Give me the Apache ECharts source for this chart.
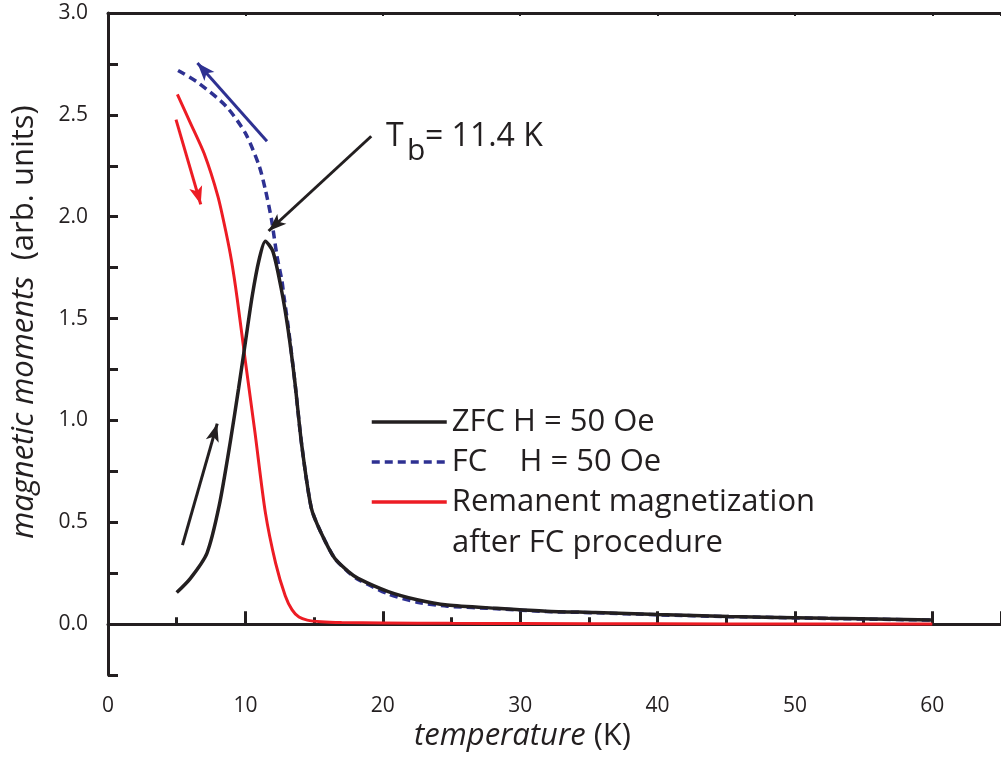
<!DOCTYPE html>
<html>
<head>
<meta charset="utf-8">
<script src="https://cdn.jsdelivr.net/npm/echarts@6/dist/echarts.min.js"></script>
<style>html,body{margin:0;padding:0;background:#fff}#c{width:1001px;height:757px}</style>
</head>
<body>
<div id="c"></div>
<script>
// ---- data ----
var zfcT = [5.0, 6.0, 7.2, 8.1, 8.9, 9.5, 10.0, 10.5, 11.0, 11.45, 12.0, 12.6, 13.1, 13.6, 14.1, 14.8, 15.5, 16.5, 17.5, 18.2, 20.4, 22.5, 24.7, 28.3, 31.9, 35.5, 40, 45.2, 52.4, 60];
var zfcM = [0.155, 0.225, 0.348, 0.584, 0.894, 1.155, 1.384, 1.612, 1.79, 1.88, 1.83, 1.65, 1.45, 1.19, 0.88, 0.57, 0.45, 0.323, 0.258, 0.225, 0.16, 0.12, 0.094, 0.078, 0.064, 0.057, 0.047, 0.038, 0.029, 0.021];
var fcT = [5.1, 6.6, 8.6, 10.0, 11.0, 11.45, 11.9, 12.3, 12.65, 12.8, 13.1, 13.6, 14.1, 14.8, 15.5, 16.5, 17.5, 18.2, 20.4, 22.5, 24.7, 28.3, 31.9, 35.5, 40, 45.2, 52.4, 60];
var fcM = [2.718, 2.656, 2.542, 2.41, 2.25, 2.134, 1.987, 1.807, 1.69, 1.612, 1.47, 1.19, 0.88, 0.57, 0.45, 0.323, 0.255, 0.22, 0.148, 0.108, 0.088, 0.076, 0.062, 0.056, 0.046, 0.037, 0.028, 0.02];
var remT = [5.05, 6.0, 7.0, 8.0, 8.6, 9.0, 9.4, 10.0, 10.7, 11.45, 12.2, 12.9, 13.4, 13.9, 14.5, 15.5, 17, 20, 25, 30, 40, 50, 60];
var remM = [2.6, 2.46, 2.31, 2.1, 1.92, 1.78, 1.6, 1.29, 0.94, 0.55, 0.3, 0.14, 0.07, 0.035, 0.02, 0.012, 0.008, 0.006, 0.004, 0.003, 0.002, 0.001, 0.001];
var seriesNames = ['ZFC H = 50 Oe', 'FC    H = 50 Oe', 'Remanent magnetization'];
var legendExtra = 'after FC procedure';
var xLabelStep = 10;
var yLabelStep = 0.5;
// arrows in data units: [x1, y1, x2, y2] (head at second point)
var arrowZFC = [5.42, 0.388, 7.95, 0.984];
var arrowFC = [11.57, 2.371, 6.51, 2.754];
var arrowRem = [4.95, 2.477, 6.75, 2.061];
var arrowTb = [19.16, 2.395, 11.69, 1.93];
var tbText = ['T', 'b', '= 11.4 K'];

var BLACK = '#231f20', BLUE = '#2e3192', RED = '#ed1c24';
var FONT = 'Open Sans';

function zip(a, b) { return a.map(function (v, i) { return [v, b[i]]; }); }
function arrow(a, color) {
  return [
    { coord: [a[0], a[1]], symbol: 'none' },
    { coord: [a[2], a[3]], symbol: 'arrow', symbolSize: [10, 18], lineStyle: { color: color } }
  ];
}
function arrowMark(list, color) {
  return {
    silent: true, animation: false,
    label: { show: false },
    lineStyle: { color: color, width: 3, type: 'solid' },
    itemStyle: { color: color },
    symbol: ['none', 'arrow'],
    emphasis: { disabled: true },
    data: list
  };
}

var chart = echarts.init(document.getElementById('c'), null, { renderer: 'canvas' });
chart.setOption({
  animation: false,
  backgroundColor: '#fff',
  textStyle: { fontFamily: FONT, color: BLACK },
  grid: { left: 108, top: 13, bottom: 80, right: -6, containLabel: false },
  legend: {
    left: 370, top: 402, orient: 'vertical', padding: 0, itemGap: 0,
    itemWidth: 75, itemHeight: 14, selectedMode: false,
    data: seriesNames,
    itemStyle: { opacity: 0, borderWidth: 0 },
    lineStyle: { width: 3.5 },
    textStyle: { fontFamily: FONT, fontSize: 31, lineHeight: 40, color: BLACK }
  },
  xAxis: [{
    type: 'value', min: 0, max: 65, interval: xLabelStep, position: 'bottom',
    axisLine: { lineStyle: { color: BLACK, width: 3 } },
    axisTick: { inside: true, length: 13, lineStyle: { color: BLACK, width: 3 } },
    minorTick: { show: true, splitNumber: 2, length: 7, lineStyle: { color: BLACK, width: 3 } },
    splitLine: { show: false },
    axisLabel: { fontFamily: FONT, fontSize: 21, color: BLACK, margin: 20, showMaxLabel: false },
    name: '{i|temperature}{n| (K)}', nameLocation: 'middle', nameGap: 44,
    nameTextStyle: {
      padding: [0, 64, 0, 0],
      rich: {
        i: { fontFamily: FONT, fontSize: 31, fontStyle: 'italic', color: BLACK },
        n: { fontFamily: FONT, fontSize: 31, color: BLACK }
      }
    }
  }, {
    type: 'value', min: 0, max: 65, interval: xLabelStep, position: 'top',
    axisLine: { lineStyle: { color: BLACK, width: 3 } },
    axisTick: { inside: true, length: 3, lineStyle: { color: BLACK, width: 2 } },
    minorTick: { show: true, splitNumber: 2, length: 2, lineStyle: { color: BLACK, width: 2 } },
    splitLine: { show: false },
    axisLabel: { show: false }
  }],
  yAxis: {
    type: 'value', min: -0.25, max: 3.0, interval: 0.25,
    axisLine: { show: true, lineStyle: { color: BLACK, width: 3 } },
    axisTick: { show: true, inside: true, length: 10, lineStyle: { color: BLACK, width: 3 } },
    splitLine: { show: false },
    axisLabel: {
      fontFamily: FONT, fontSize: 21, color: BLACK, margin: 20,
      formatter: function (v) {
        var k = v / yLabelStep;
        return (v >= -1e-9 && Math.abs(k - Math.round(k)) < 1e-6) ? v.toFixed(1) : '';
      }
    },
    name: '{i|magnetic moments}{n|  (arb. units)}', nameLocation: 'middle', nameGap: 68, nameRotate: 90,
    nameTextStyle: {
      padding: [0, 0, 0, 44],
      rich: {
        i: { fontFamily: FONT, fontSize: 31, fontStyle: 'italic', color: BLACK },
        n: { fontFamily: FONT, fontSize: 31, color: BLACK }
      }
    }
  },
  series: [{
    name: seriesNames[2], type: 'line', data: zip(remT, remM), smooth: 0.25,
    symbol: 'none', lineStyle: { color: RED, width: 3 }, itemStyle: { color: RED },
    z: 3, silent: true,
    markLine: arrowMark([arrow(arrowRem, RED)], RED)
  }, {
    name: seriesNames[1], type: 'line', data: zip(fcT, fcM), smooth: 0.25,
    symbol: 'none', lineStyle: { color: BLUE, width: 3.5, type: [8, 5] }, itemStyle: { color: BLUE },
    z: 4, silent: true,
    markLine: arrowMark([arrow(arrowFC, BLUE)], BLUE)
  }, {
    name: seriesNames[0], type: 'line', data: zip(zfcT, zfcM), smooth: 0.25,
    symbol: 'none', lineStyle: { color: BLACK, width: 3.5 }, itemStyle: { color: BLACK },
    z: 5, silent: true,
    markLine: {
      silent: true, animation: false, label: { show: false }, symbol: ['none', 'arrow'],
      lineStyle: { color: BLACK, width: 3, type: 'solid' }, itemStyle: { color: BLACK },
      emphasis: { disabled: true },
      data: [
        arrow(arrowZFC, BLACK),
        [{ yAxis: 0, symbol: 'none', lineStyle: { width: 3, color: BLACK } }, { yAxis: 0, symbol: 'none' }]
      ]
    }
  }, {
    name: 'Tb', type: 'line', data: [], symbol: 'none', silent: true,
    markLine: arrowMark([arrow(arrowTb, BLACK)], BLACK)
  }],
  graphic: [
    { type: 'text', left: 452, top: 528, silent: true,
      style: { text: legendExtra, font: '31px "' + FONT + '"', fill: BLACK } },
    { type: 'text', x: 386, y: 121, silent: true,
      style: { text: tbText[0], font: '32px "' + FONT + '"', fill: BLACK, verticalAlign: 'top' } },
    { type: 'text', x: 407, y: 136, silent: true,
      style: { text: tbText[1], font: '30px "' + FONT + '"', fill: BLACK, verticalAlign: 'top' } },
    { type: 'text', x: 425, y: 121, silent: true,
      style: { text: tbText[2], font: '32px "' + FONT + '"', fill: BLACK, verticalAlign: 'top' } }
  ]
});
</script>
</body>
</html>
